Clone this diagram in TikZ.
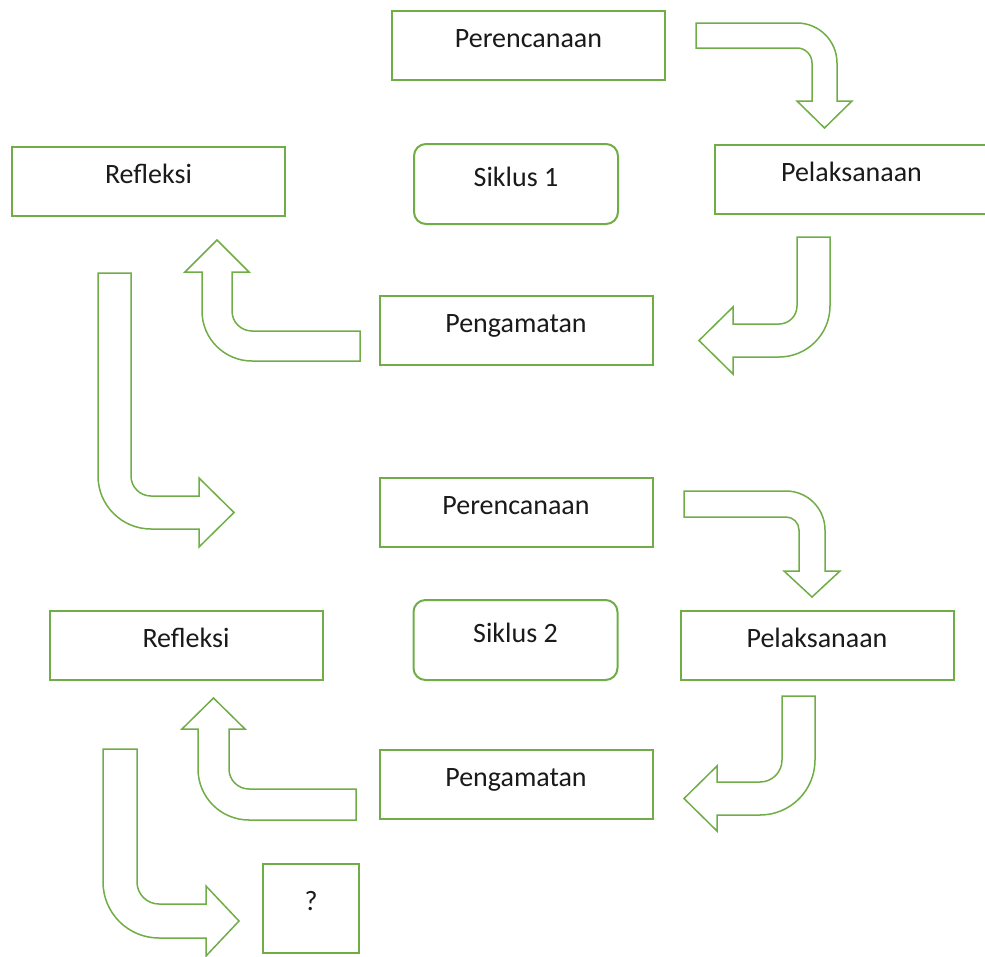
\documentclass[tikz,border=0pt]{standalone}
\usepackage{fontspec}
\setmainfont{Carlito}
\definecolor{boxgreen}{HTML}{70AD47}
\definecolor{txtgray}{HTML}{1A1A1A}
\begin{document}
\begin{tikzpicture}[x=1pt,y=-1pt,
  box/.style={draw=boxgreen,line width=2pt,fill=white,minimum width=273pt,minimum height=69pt,
    inner sep=0pt,text height=12pt,text depth=8pt,font=\fontsize{28}{32}\selectfont,text=txtgray},
  cyclebox/.style={box,rounded corners=12pt,minimum width=204pt,minimum height=80pt},
  bentarrow/.style={draw=boxgreen,line width=1.5pt,line join=miter,fill=white}]
\useasboundingbox (0,0) rectangle (985,956);

% nodes
\node[box] (per1) at (528.5,45.5) {Perencanaan};
\node[cyclebox] (sik1) at (516,184) {Siklus 1};
\node[box] (ref1) at (148.5,181.5) {Refleksi};
\node[box] (pel1) at (851.5,179) {Pelaksanaan};
\node[box] (pen1) at (516,330.5) {Pengamatan};
\node[box] (per2) at (516,512.5) {Perencanaan};
\node[cyclebox] (sik2) at (515.5,640) {Siklus 2};
\node[box] (ref2) at (186,645.5) {Refleksi};
\node[box] (pel2) at (817,645.5) {Pelaksanaan};
\node[box] (pen2) at (516,784.5) {Pengamatan};
\node[box,minimum width=96pt,minimum height=89pt] (q) at (311,908.5) {?};

% bent arrows, cycle 1
\draw[bentarrow] (696,23) -- (797,23) arc[start angle=-90,end angle=0,radius=40]
  -- (837,101) -- (852,101) -- (824.5,128) -- (797,101) -- (812,101) -- (812,63)
  arc[start angle=0,end angle=-90,radius=15] -- (696,48) -- cycle;
\draw[bentarrow] (797,237) -- (830,237) -- (830,306) arc[start angle=0,end angle=90,radius=51]
  -- (733,357) -- (733,374) -- (699,340.5) -- (733,307) -- (733,324) -- (779,324)
  arc[start angle=90,end angle=0,radius=18] -- cycle;
\draw[bentarrow] (360,331) -- (360,361) -- (252,361) arc[start angle=90,end angle=180,radius=50]
  -- (202,272) -- (185,272) -- (217,240) -- (249,272) -- (232,272) -- (232,311)
  arc[start angle=180,end angle=90,radius=20] -- cycle;
\draw[bentarrow] (98,273) -- (131,273) -- (131,476) arc[start angle=180,end angle=90,radius=20]
  -- (199,496) -- (199,478) -- (234,512.5) -- (199,547) -- (199,529) -- (151,529)
  arc[start angle=90,end angle=180,radius=53] -- cycle;

% bent arrows, cycle 2
\draw[bentarrow] (684,491) -- (786,491) arc[start angle=-90,end angle=0,radius=39]
  -- (825,571) -- (840,571) -- (812,597) -- (784,571) -- (799,571) -- (799,530)
  arc[start angle=0,end angle=-90,radius=13] -- (684,517) -- cycle;
\draw[bentarrow] (782,696) -- (815,696) -- (815,760) arc[start angle=0,end angle=90,radius=55]
  -- (717,815) -- (717,831) -- (684,798.5) -- (717,766) -- (717,782) -- (760,782)
  arc[start angle=90,end angle=0,radius=22] -- cycle;
\draw[bentarrow] (356,789) -- (356,820) -- (249,820) arc[start angle=90,end angle=180,radius=51]
  -- (198,729) -- (182,729) -- (213.5,698) -- (245,729) -- (229,729) -- (229,769)
  arc[start angle=180,end angle=90,radius=20] -- cycle;
\draw[bentarrow] (103,749) -- (137,749) -- (137,882) arc[start angle=180,end angle=90,radius=22]
  -- (206,904) -- (206,886) -- (239,921) -- (206,956) -- (206,938) -- (159,938)
  arc[start angle=90,end angle=180,radius=56] -- cycle;
\end{tikzpicture}
\end{document}
